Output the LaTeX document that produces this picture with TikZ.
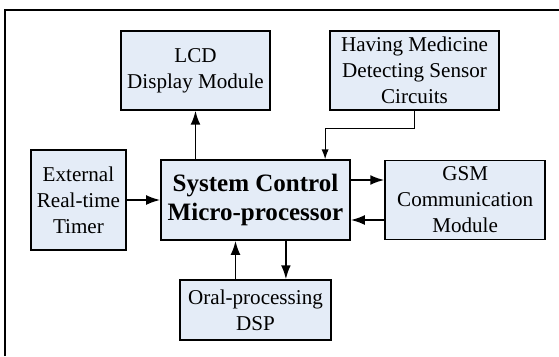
\documentclass[tikz,border=0pt]{standalone}
\usepackage{fontspec}
\setmainfont{Liberation Serif}
\usetikzlibrary{positioning}
\usetikzlibrary{arrows.meta}
\definecolor{boxblue}{RGB}{228,236,247}
\tikzset{
	block/.style={draw, line width=1pt, fill=boxblue, align=center, inner sep=0pt, font=\fontsize{15}{18.5}\selectfont},
	mainblock/.style={block, font=\fontsize{17.8}{20.8}\selectfont\bfseries},
}

\begin{document}
\begin{tikzpicture}[x=0.025cm, y=-0.025cm]
		\useasboundingbox (0,0) rectangle (559,356);
		\draw[line width=2pt] (5,356) |- (559,10);
		
		\node (sys) [mainblock, minimum width=4.725cm, minimum height=2cm] at (255.5,200) {System Control\\Micro-processor};
		
		\node (lcd) [block, minimum width=3.725cm, minimum height=1.975cm, above of=sys, xshift=-1.5cm, yshift=2.24cm] {LCD\\Display Module};
		\node (hav) [block, minimum width=4.225cm, minimum height=1.975cm, above of=sys, xshift=3.975cm, yshift=2.24cm] {Having Medicine\\Detecting Sensor\\Circuits};
		
		\node (ext) [block, minimum width=2.375cm, minimum height=2.5cm, left of=sys, xshift=-3.425cm] {External\\Real-time\\Timer};
		\node (gsm) [block, minimum width=4cm, minimum height=1.975cm, right of=sys, xshift=4.24cm] {GSM\\Communication\\Module};
		
		\node (oral) [block, minimum width=3.775cm, minimum height=1.5cm, below of=sys, yshift=-1.75cm] {Oral-processing\\DSP};
		
		\begin{scope}[line width=1.4pt, black, ->, >={Latex[length=10pt, width=7pt]}]
			\draw (sys.north -| lcd) -- (lcd.south);
			\draw (ext) -- (sys);
			\draw ([yshift=0.5cm]sys.east) -- ([yshift=0.5cm]sys.east -| gsm.west);
			\draw ([yshift=-0.5cm]sys.east -| gsm.west) -- ([yshift=-0.5cm]sys.east);
			\draw ([xshift=-0.5cm]oral.north) -- ([xshift=-0.5cm]sys.south);
			\draw ([xshift=0.76cm]sys.south) -- ([xshift=0.76cm]oral.north);
		\end{scope}
		\draw[line width=0.8pt, ->, >={Latex[length=7pt, width=5pt]}] (hav.south) -- ++(0,18) -| ([xshift=1.74cm]sys.north);
	\end{tikzpicture}
\end{document}
